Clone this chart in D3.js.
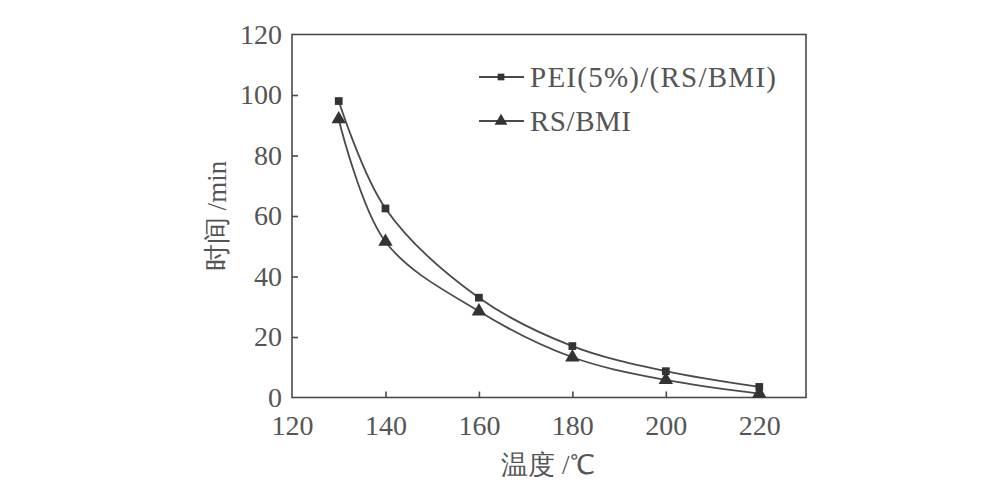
<!DOCTYPE html>
<html><head><meta charset="utf-8">
<script src="https://cdn.jsdelivr.net/npm/d3@7"></script>
<style>body{margin:0;background:#fff}</style>
</head><body>
<svg id="c" width="988" height="488"></svg>
<script>
const temps = [130, 140, 160, 180, 200, 220];
const peiTimes = [98, 62.5, 33, 17, 8.7, 3.5];
const rsTimes = [92, 51.5, 28.5, 13.3, 5.8, 1.3];
const xTicks = [120, 140, 160, 180, 200, 220];
const yTicks = [0, 20, 40, 60, 80, 100, 120];
const seriesNames = ["PEI(5%)/(RS/BMI)", "RS/BMI"];

const svg = d3.select("#c");
const L = 292, R = 806, T = 34.5, B = 397.5;
const x = d3.scaleLinear().domain([120, 230]).range([L, R]);
const y = d3.scaleLinear().domain([0, 120]).range([B, T]);
const col = "#4a4a4a", tcol = "#555";
const font = "'Liberation Serif', 'Times New Roman', serif";

// frame
svg.append("rect").attr("x", L).attr("y", T).attr("width", R - L).attr("height", B - T)
  .attr("fill", "none").attr("stroke", col).attr("stroke-width", 1.6);

const xa = svg.append("g").attr("transform", `translate(0,${B})`)
  .call(d3.axisBottom(x).tickValues(xTicks).tickSize(-6).tickPadding(18).tickFormat(d3.format("d")));
const ya = svg.append("g").attr("transform", `translate(${L},0)`)
  .call(d3.axisLeft(y).tickValues(yTicks).tickSize(-6).tickPadding(10).tickFormat(d3.format("d")));
[xa, ya].forEach(a => {
  a.select(".domain").remove();
  a.selectAll("line").attr("stroke", col).attr("stroke-width", 1.6);
  a.selectAll("text").attr("font-family", font).attr("font-size", 28).attr("fill", tcol);
});
xa.selectAll("text").attr("dy", "0.71em");
xa.selectAll(".tick").filter(d => d === 120).select("line").remove();
ya.selectAll(".tick").filter(d => d === 0 || d === 120).select("line").remove();

const line = d3.line().x((d, i) => x(temps[i])).y(d => y(d)).curve(d3.curveCatmullRom.alpha(0.5));
[peiTimes, rsTimes].forEach(vals => {
  svg.append("path").datum(vals).attr("d", line).attr("fill", "none")
    .attr("stroke", col).attr("stroke-width", 1.8);
});
const sym = [d3.symbolSquare, d3.symbolTriangle];
[peiTimes, rsTimes].forEach((vals, s) => {
  svg.append("g").selectAll("path").data(vals).join("path")
    .attr("transform", (d, i) => `translate(${x(temps[i])},${y(d)})`)
    .attr("d", d3.symbol().type(sym[s]).size(s === 0 ? 60 : 90))
    .attr("fill", "#333");
});

// legend
const lg = svg.append("g");
const legLen = [246, 101];
seriesNames.forEach((n, s) => {
  const ly = 77 + s * 44;
  lg.append("line").attr("x1", 479).attr("x2", 524).attr("y1", ly).attr("y2", ly)
    .attr("stroke", col).attr("stroke-width", 1.8);
  lg.append("path").attr("transform", `translate(501,${ly})`)
    .attr("d", d3.symbol().type(sym[s]).size(s === 0 ? 45 : 70)).attr("fill", "#333");
  lg.append("text").attr("x", 530).attr("y", ly).attr("dy", "0.35em")
    .attr("font-family", font).attr("font-size", 29).attr("fill", tcol)
    .attr("textLength", legLen[s]).attr("lengthAdjust", "spacing").text(n);
});

// axis titles
svg.append("text").attr("x", 548).attr("y", 474).attr("text-anchor", "middle")
  .attr("font-family", font).attr("font-size", 27).attr("fill", tcol).text("温度 /℃");
svg.append("text").attr("transform", `translate(226,${(T + B) / 2}) rotate(-90)`)
  .attr("text-anchor", "middle").attr("font-family", font).attr("font-size", 27)
  .attr("fill", tcol).text("时间 /min");
</script>
</body></html>
